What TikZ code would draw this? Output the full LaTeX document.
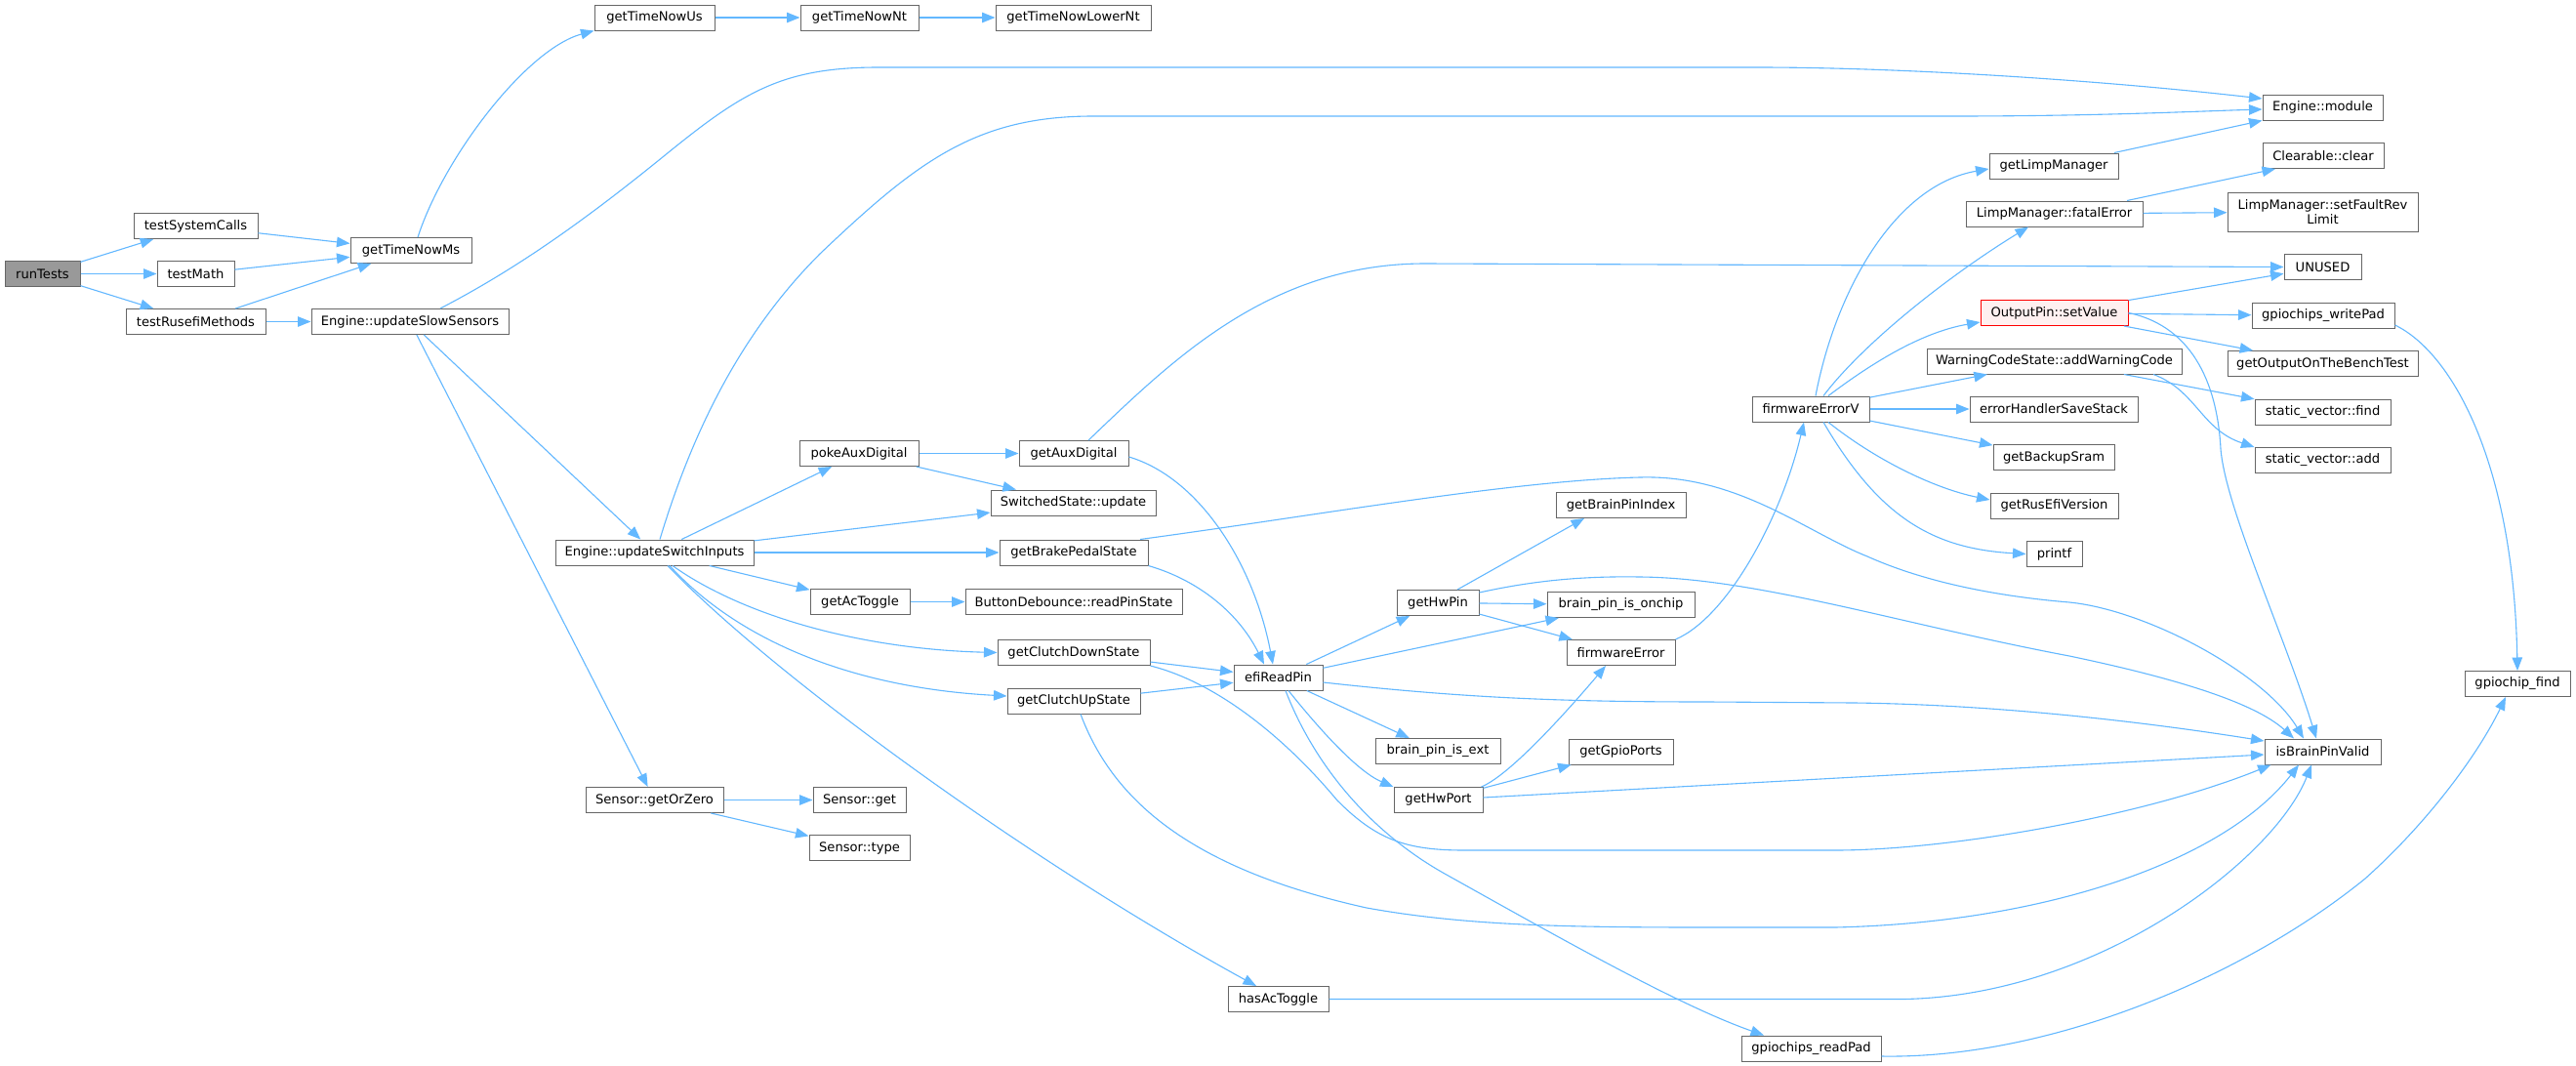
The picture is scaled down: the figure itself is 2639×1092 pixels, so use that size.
\documentclass[tikz,border=0pt]{standalone}
\usepackage{fontspec}
\setmainfont{DejaVu Sans}
\usetikzlibrary{arrows.meta}
\definecolor{edgeblue}{HTML}{63B8FF}
\definecolor{nodegray}{HTML}{666666}
\definecolor{rootfill}{HTML}{999999}
\definecolor{hlfill}{HTML}{FFF0F0}
\definecolor{hlred}{HTML}{FF0000}
\begin{document}
\begin{tikzpicture}[x=1pt,y=-1pt,
  font=\fontsize{13.1pt}{15.5pt}\selectfont,
  fn/.style={draw=nodegray, line width=1.0pt, fill=white, inner sep=0pt, minimum height=26pt, text=black},
  e/.style={draw=edgeblue, line width=1.1pt, -{Triangle[length=13.5pt,width=10.5pt]}}]
\fill[white] (0,0) rectangle (2639,1092);
\useasboundingbox (0,0) rectangle (2639,1092);
% nodes
\node[fn, minimum width=77pt, fill=rootfill] (rt) at (43.5,280.5) {runTests};
\node[fn, minimum width=127pt] (tsc) at (200.5,231.5) {testSystemCalls};
\node[fn, minimum width=79pt] (tm) at (200.5,280.5) {testMath};
\node[fn, minimum width=143pt] (trm) at (200.5,329.5) {testRusefiMethods};
\node[fn, minimum width=124pt] (gtms) at (421,256.5) {getTimeNowMs};
\node[fn, minimum width=202pt] (sl) at (420,329.5) {Engine::updateSlowSensors};
\node[fn, minimum width=123pt] (gtus) at (670.5,18) {getTimeNowUs};
\node[fn, minimum width=121pt] (gtnt) at (880.5,18) {getTimeNowNt};
\node[fn, minimum width=159pt] (gtlnt) at (1099.5,18) {getTimeNowLowerNt};
\node[fn, minimum width=203pt] (usi) at (670.5,566) {Engine::updateSwitchInputs};
\node[fn, minimum width=141pt] (sgz) at (670.5,819.5) {Sensor::getOrZero};
\node[fn, minimum width=95pt] (sget) at (880.5,819.5) {Sensor::get};
\node[fn, minimum width=103pt] (stype) at (880.5,868.5) {Sensor::type};
\node[fn, minimum width=122pt] (pad) at (880,464.5) {pokeAuxDigital};
\node[fn, minimum width=102pt] (gat) at (881,616.5) {getAcToggle};
\node[fn, minimum width=156pt] (gcd) at (1100,668.5) {getClutchDownState};
\node[fn, minimum width=136pt] (gcu) at (1100,718) {getClutchUpState};
\node[fn, minimum width=103pt] (hat) at (1309.5,1023.5) {hasAcToggle};
\node[fn, minimum width=112pt] (gad) at (1100,464.5) {getAuxDigital};
\node[fn, minimum width=169pt] (ssu) at (1099.5,515) {SwitchedState::update};
\node[fn, minimum width=152pt] (gbp) at (1100,566) {getBrakePedalState};
\node[fn, minimum width=222pt] (bdr) at (1100,616.5) {ButtonDebounce::readPinState};
\node[fn, minimum width=91pt] (erp) at (1309.5,694) {efiReadPin};
\node[fn, minimum width=84pt] (ghw) at (1473,617.5) {getHwPin};
\node[fn, minimum width=128pt] (bpe) at (1473,769.5) {brain\_pin\_is\_ext};
\node[fn, minimum width=91pt] (ghp) at (1473.5,819.5) {getHwPort};
\node[fn, minimum width=143pt] (grp) at (1855.5,1074) {gpiochips\_readPad};
\node[fn, minimum width=133pt] (gbpi) at (1660.5,517.5) {getBrainPinIndex};
\node[fn, minimum width=151pt] (bpo) at (1660.5,619.5) {brain\_pin\_is\_onchip};
\node[fn, minimum width=111pt] (fe) at (1660.5,668.5) {firmwareError};
\node[fn, minimum width=107pt] (ggp) at (1660.5,770) {getGpioPorts};
\node[fn, minimum width=120pt] (fev) at (1855,419) {firmwareErrorV};
\node[fn, minimum width=132pt] (glm) at (2104,170) {getLimpManager};
\node[fn, minimum width=181pt] (lfe) at (2104.5,219) {LimpManager::fatalError};
\node[fn, minimum width=151pt, draw=hlred, fill=hlfill] (osv) at (2104.5,320.5) {OutputPin::setValue};
\node[fn, minimum width=261pt] (wcs) at (2104.5,370) {WarningCodeState::addWarningCode};
\node[fn, minimum width=172pt] (ehs) at (2104,419) {errorHandlerSaveStack};
\node[fn, minimum width=124pt] (gbs) at (2104,468.5) {getBackupSram};
\node[fn, minimum width=131pt] (grv) at (2104.5,518) {getRusEfiVersion};
\node[fn, minimum width=57pt] (pf) at (2104.5,567.5) {printf};
\node[fn, minimum width=123pt] (em) at (2379.5,110) {Engine::module};
\node[fn, minimum width=124pt] (cc) at (2380,159.5) {Clearable::clear};
\node[fn, minimum width=195pt, minimum height=40pt, align=center] (sfr) at (2379.5,217) {LimpManager::setFaultRev\\Limit};
\node[fn, minimum width=79pt] (un) at (2379.5,273.5) {UNUSED};
\node[fn, minimum width=146pt] (gwp) at (2380,323.5) {gpiochips\_writePad};
\node[fn, minimum width=195pt] (gob) at (2379.5,372.5) {getOutputOnTheBenchTest};
\node[fn, minimum width=139pt] (svf) at (2379.5,422) {static\_vector::find};
\node[fn, minimum width=139pt] (sva) at (2379.5,471.5) {static\_vector::add};
\node[fn, minimum width=119pt] (ibv) at (2379.5,770) {isBrainPinValid};
\node[fn, minimum width=108pt] (gcf) at (2579,700.5) {gpiochip\_find};
% edges
\draw[e] (rt) -- (tsc);
\draw[e] (rt) -- (tm);
\draw[e] (rt) -- (trm);
\draw[e] (tsc) -- (gtms);
\draw[e] (tm) -- (gtms);
\draw[e] (trm) -- (gtms);
\draw[e] (trm) -- (sl);
\draw[e] ([xshift=7pt]gtms.north) .. controls (455,160) and (540,50) .. (gtus.south west);
\draw[e] (gtus) -- (gtnt);
\draw[e] (gtnt) -- (gtlnt);
\draw[e] ([xshift=31pt]sl.north) .. controls (530,275) and (600,225) .. (680,160) .. controls (760,95) and (800,69) .. (900,69) -- (1800,69) .. controls (1950,69) and (2150,82) .. ([yshift=9pt]em.west);
\draw[e] (sl) -- (usi);
\draw[e] (sl) -- (sgz);
\draw[e] (sgz) -- (sget);
\draw[e] (sgz) -- (stype);
\draw[e] ([xshift=5.5pt]usi.north) .. controls (710,440) and (760,340) .. (840,260) .. controls (940,165) and (1000,119) .. (1120,119) -- (2000,119) .. controls (2150,119) and (2250,114) .. ([yshift=-2pt]em.west);
\draw[e] (usi) -- (pad);
\draw[e] (usi) -- (ssu);
\draw[e] (usi) -- (gbp);
\draw[e] (usi) -- (gat);
\draw[e] ([xshift=18.5pt]usi.south) .. controls (760,630) and (880,665) .. (gcd.west);
\draw[e] ([xshift=15.5pt]usi.south) .. controls (760,660) and (880,705) .. ([yshift=5pt]gcu.west);
\draw[e] ([xshift=13.5pt]usi.south) .. controls (790,690) and (1050,880) .. ([xshift=-22.5pt]hat.north);
\draw[e] (pad) -- (gad);
\draw[e] (pad) -- (ssu);
\draw[e] ([xshift=15pt]gad.north) .. controls (1200,370) and (1300,270) .. (1460,270) -- (un.west);
\draw[e] ([yshift=-3.5pt]gad.east) .. controls (1230,490) and (1285,580) .. ([xshift=-5.5pt]erp.north);
\draw[e] ([xshift=68pt]gbp.north) .. controls (1350,528) and (1550,492) .. (1680,489) .. controls (1780,486) and (1850,545) .. (1913,570) .. controls (1980,600) and (2060,612) .. (2120,617) .. controls (2200,625) and (2320,690) .. ([xshift=-19.5pt]ibv.north);
\draw[e] (gbp.south east) .. controls (1230,595) and (1270,630) .. ([xshift=-14.5pt]erp.north);
\draw[e] (gat) -- (bdr);
\draw[e] (gcd) -- (erp);
\draw[e] (gcd.south east) .. controls (1250,700) and (1320,760) .. (1370,820) .. controls (1410,860) and (1440,871) .. (1500,871) -- (1880,871) .. controls (2000,871) and (2200,835) .. ([xshift=7pt]ibv.south west);
\draw[e] (gcu) -- (erp);
\draw[e] ([xshift=7pt]gcu.south) .. controls (1140,820) and (1220,890) .. (1400,930) .. controls (1500,948) and (1600,950) .. (1750,950) -- (1880,950) .. controls (2100,945) and (2280,880) .. ([xshift=-24.5pt]ibv.south);
\draw[e] (hat.east) -- (1950,1023.5) .. controls (2150,1020) and (2330,880) .. ([xshift=-11.5pt]ibv.south);
\draw[e] (erp) -- (ghw);
\draw[e] (erp) -- (bpo);
\draw[e] ([yshift=-5pt]erp.east) .. controls (1500,715) and (1600,719) .. (1750,719) -- (1900,720) .. controls (2050,722) and (2200,740) .. ([yshift=11pt]ibv.west);
\draw[e] (erp) -- (bpe);
\draw[e] ([xshift=10.5pt]erp.south) .. controls (1350,745) and (1390,790) .. (ghp.north west);
\draw[e] ([xshift=7.5pt]erp.south) .. controls (1345,780) and (1400,850) .. (1480,895) .. controls (1600,962) and (1720,1030) .. ([xshift=-48.5pt]grp.north);
\draw[e] ([xshift=20pt]ghw.north) -- ([xshift=-37.5pt]gbpi.south);
\draw[e] (ghw) -- (bpo);
\draw[e] (ghw) -- (fe);
\draw[e] ([yshift=10.5pt]ghw.east) .. controls (1570,595) and (1620,590) .. (1680,591) .. controls (1800,592) and (1950,640) .. (2120,672) .. controls (2230,695) and (2310,720) .. ([xshift=-29.5pt]ibv.north);
\draw[e] ([xshift=-2pt]ghp.north east) .. controls (1545,795) and (1600,735) .. ([xshift=-15.5pt]fe.south);
\draw[e] (ghp) -- (ggp);
\draw[e] ([yshift=2.5pt]ghp.east) -- ([yshift=-3pt]ibv.west);
\draw[e] (fe.north east) .. controls (1770,632) and (1825,530) .. ([xshift=-7pt]fev.south);
\draw[e] ([xshift=5pt]fev.north) .. controls (1880,300) and (1940,190) .. ([yshift=-3pt]glm.west);
\draw[e] ([xshift=13pt]fev.north) .. controls (1910,350) and (2000,280) .. ([xshift=-26.5pt]lfe.south);
\draw[e] ([xshift=18pt]fev.north) .. controls (1920,370) and (1970,340) .. ([yshift=-9.5pt]osv.west);
\draw[e] (fev) -- (wcs);
\draw[e] (fev) -- (ehs);
\draw[e] (fev) -- (gbs);
\draw[e] ([xshift=18pt]fev.south) .. controls (1920,470) and (1980,500) .. ([yshift=6pt]grv.west);
\draw[e] ([xshift=13pt]fev.south) .. controls (1925,530) and (1980,562) .. (pf.west);
\draw[e] (glm) -- (em);
\draw[e] ([xshift=74.5pt]lfe.north) -- ([xshift=-49pt]cc.south);
\draw[e] (lfe) -- (sfr);
\draw[e] (osv) -- (un);
\draw[e] (osv) -- (gwp);
\draw[e] (osv) -- (gob);
\draw[e] (osv.east) .. controls (2250,335) and (2272,400) .. (2275,460) .. controls (2280,520) and (2340,650) .. ([xshift=-6.5pt]ibv.north);
\draw[e] (wcs) -- (svf);
\draw[e] ([xshift=101.5pt]wcs.south) .. controls (2250,400) and (2255,440) .. (sva.north west);
\draw[e] ([yshift=-9.5pt]gwp.east) .. controls (2510,360) and (2575,470) .. (gcf.north);
\draw[e] ([yshift=-8pt]grp.east) .. controls (2100,1085) and (2300,1000) .. (2423,900) .. controls (2490,840) and (2540,770) .. ([xshift=-12pt]gcf.south);
\end{tikzpicture}
\end{document}
